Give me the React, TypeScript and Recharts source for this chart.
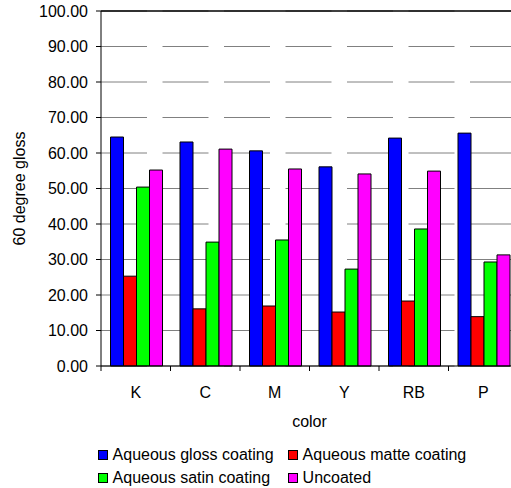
import React from 'react';
import { BarChart, Bar, XAxis, YAxis, CartesianGrid, Legend, ReferenceLine } from 'recharts';

const categories = ['K', 'C', 'M', 'Y', 'RB', 'P'];
const glossValues = [64.5, 63.1, 60.6, 56.1, 64.2, 65.6];
const matteValues = [25.3, 16.1, 16.9, 15.2, 18.3, 13.9];
const satinValues = [50.4, 34.9, 35.5, 27.3, 38.6, 29.3];
const uncoatedValues = [55.2, 61.1, 55.5, 54.1, 54.9, 31.3];
const yTicks = [0, 10, 20, 30, 40, 50, 60, 70, 80, 90, 100];

const series = [
  { key: 'gloss', name: 'Aqueous gloss coating', color: '#0000FF' },
  { key: 'matte', name: 'Aqueous matte coating', color: '#FF0000' },
  { key: 'satin', name: 'Aqueous satin coating', color: '#00FF00' },
  { key: 'uncoated', name: 'Uncoated', color: '#FF00FF' },
];

const data = categories.map((c, i) => ({
  color: c,
  gloss: glossValues[i],
  matte: matteValues[i],
  satin: satinValues[i],
  uncoated: uncoatedValues[i],
}));

const FONT = '"Liberation Sans", Arial, sans-serif';

// Category label centred in its band, with tick marks on the band boundaries
const CategoryTick = (props: any) => {
  const { x, y, payload, width, visibleTicksCount, index } = props;
  const band = payload && payload.offset ? payload.offset * 2 : width / visibleTicksCount;
  const left = x - band / 2;
  const right = x + band / 2;
  return (
    <g>
      <line x1={left} x2={left} y1={y - 5} y2={y} stroke="#000" />
      {index === visibleTicksCount - 1 && (
        <line x1={right} x2={right} y1={y - 5} y2={y} stroke="#000" />
      )}
      <text x={x} y={y + 26.7} textAnchor="middle" fontSize={16} fill="#000" fontFamily={FONT}>
        {payload.value}
      </text>
    </g>
  );
};

const LegendContent = (props: any) => {
  const { payload } = props;
  return (
    <div
      style={{
        display: 'grid',
        gridTemplateColumns: '190px 190px',
        gridAutoRows: '23.4px',
        fontFamily: FONT,
        fontSize: 16,
        color: '#000',
      }}
    >
      {(payload || []).map((p: any) => (
        <div key={p.value} style={{ display: 'flex', alignItems: 'center', whiteSpace: 'nowrap' }}>
          <span
            style={{
              display: 'inline-block',
              width: 10,
              height: 10,
              boxSizing: 'border-box',
              border: '1px solid #000',
              background: p.color,
              marginRight: 4.6,
              flex: 'none',
            }}
          />
          <span>{p.value}</span>
        </div>
      ))}
    </div>
  );
};

export default function App() {
  return (
    <div
      style={{
        position: 'fixed',
        left: 0,
        top: 0,
        width: 511,
        height: 488,
        overflow: 'hidden',
        background: '#fff',
        fontFamily: FONT,
      }}
    >
      <BarChart
        width={530}
        height={488}
        data={data}
        margin={{ top: 11, right: 12, left: 0, bottom: 62 }}
        barCategoryGap={9.5}
        barGap={0}
      >
        <CartesianGrid
          horizontal
          vertical={false}
          stroke="#808080"
          strokeDasharray="46 15.5"
        />
        <XAxis
          dataKey="color"
          height={60}
          axisLine={{ stroke: '#000' }}
          tickLine={false}
          tickSize={5}
          tickMargin={0}
          tick={<CategoryTick />}
          interval={0}
          label={{
            value: 'color',
            position: 'insideTop',
            offset: 50,
            fontSize: 16,
            fill: '#000',
            fontFamily: FONT,
          }}
        />
        <YAxis
          width={101}
          domain={[0, 100]}
          ticks={yTicks}
          interval={0}
          tickFormatter={(v: number) => v.toFixed(2)}
          axisLine={{ stroke: '#000' }}
          tickLine={{ stroke: '#000' }}
          tickSize={5}
          tickMargin={8}
          tick={{ fontSize: 16, fill: '#000', fontFamily: FONT }}
          label={{
            value: '60 degree gloss',
            angle: -90,
            position: 'insideLeft',
            offset: 19,
            fontSize: 16,
            fill: '#000',
            fontFamily: FONT,
            style: { textAnchor: 'middle' },
          }}
        />
        <ReferenceLine y={100} stroke="#000" strokeWidth={1.5} />
        {series.map((s) => (
          <Bar
            key={s.key}
            dataKey={s.key}
            name={s.name}
            fill={s.color}
            stroke="#000"
            strokeWidth={1}
            isAnimationActive={false}
          />
        ))}
        <Legend
          layout="horizontal"
          verticalAlign="middle"
          align="center"
          content={<LegendContent />}
          wrapperStyle={{ left: 98, top: 443, width: 400, height: 47 }}
        />
      </BarChart>
    </div>
  );
}
